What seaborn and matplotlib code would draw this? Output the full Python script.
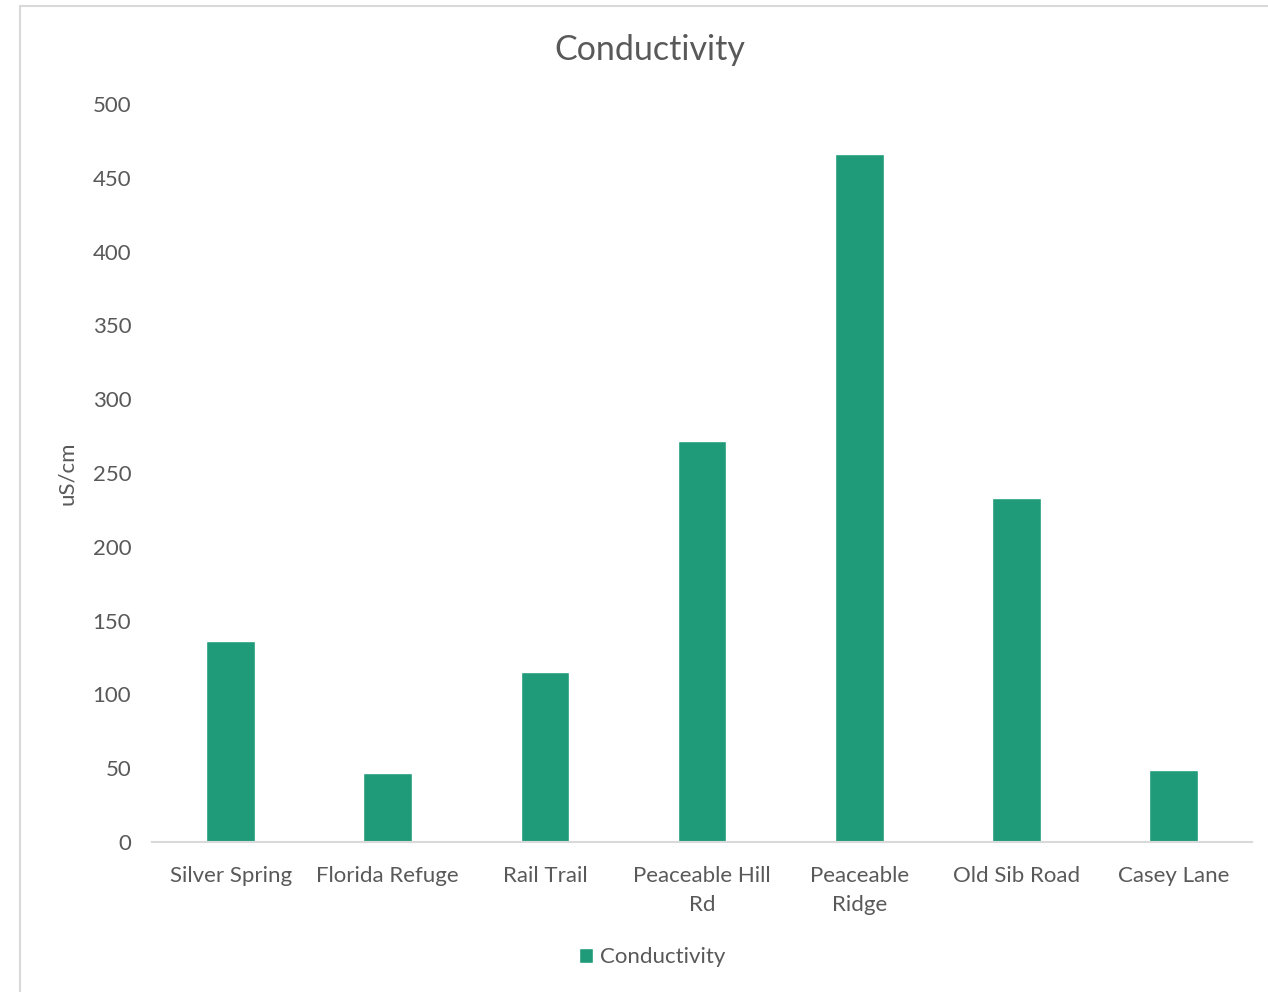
import matplotlib
matplotlib.use("Agg")
import matplotlib.pyplot as plt
import seaborn as sns
import pandas as pd
from matplotlib.patches import Rectangle

sites = ["Silver Spring", "Florida Refuge", "Rail Trail", "Peaceable Hill\nRd",
         "Peaceable\nRidge", "Old Sib Road", "Casey Lane"]
conductivity = [136, 47, 115, 272, 466, 233, 49]
y_ticks = [0, 50, 100, 150, 200, 250, 300, 350, 400, 450, 500]

sns.set_theme(style="white")
plt.rcParams["font.family"] = ["Lato", "DejaVu Sans"]

text_color = "#595959"
bar_color = "#1f9b79"
line_color = "#d9d9d9"
fs = 16

df = pd.DataFrame({"site": sites, "value": conductivity})

fig = plt.figure(figsize=(12.68, 9.92), dpi=100)
ax = fig.add_axes([152 / 1268, 150 / 992, 1100 / 1268, 738 / 992])

sns.barplot(data=df, x="site", y="value", color=bar_color, width=0.31,
            saturation=1, ax=ax, label="Conductivity")

ax.set_ylim(0, 500)
ax.set_yticks(y_ticks)
ax.set_yticklabels([str(t) for t in y_ticks], fontsize=fs, color=text_color)
ax.set_xticklabels(sites, fontsize=fs, color=text_color, linespacing=1.55)
ax.tick_params(axis="both", length=0)
ax.tick_params(axis="y", pad=15)
ax.tick_params(axis="x", pad=17.5)
ax.set_xlabel("")
ax.set_ylabel("uS/cm", fontsize=fs, color=text_color, labelpad=11)

for side in ["top", "right", "left"]:
    ax.spines[side].set_visible(False)
ax.spines["bottom"].set_color(line_color)
ax.spines["bottom"].set_linewidth(1.5)

fig.text(650 / 1268, 1 - 50 / 992, "Conductivity", fontsize=24.5,
         color=text_color, ha="center", va="center")

leg = ax.legend(loc="center", bbox_to_anchor=((652 - 152) / 1100, -0.156),
                frameon=False, fontsize=fs, handlelength=0.65,
                handleheight=0.65, handletextpad=0.3)
for t in leg.get_texts():
    t.set_color(text_color)

# outer chart border
fig.patches.append(Rectangle((20 / 1268, -0.1), 1.2, (992 - 6) / 992 + 0.1,
                             transform=fig.transFigure, fill=False,
                             edgecolor=line_color, linewidth=1.5))

fig.savefig("out.png", dpi=100, facecolor="white")
